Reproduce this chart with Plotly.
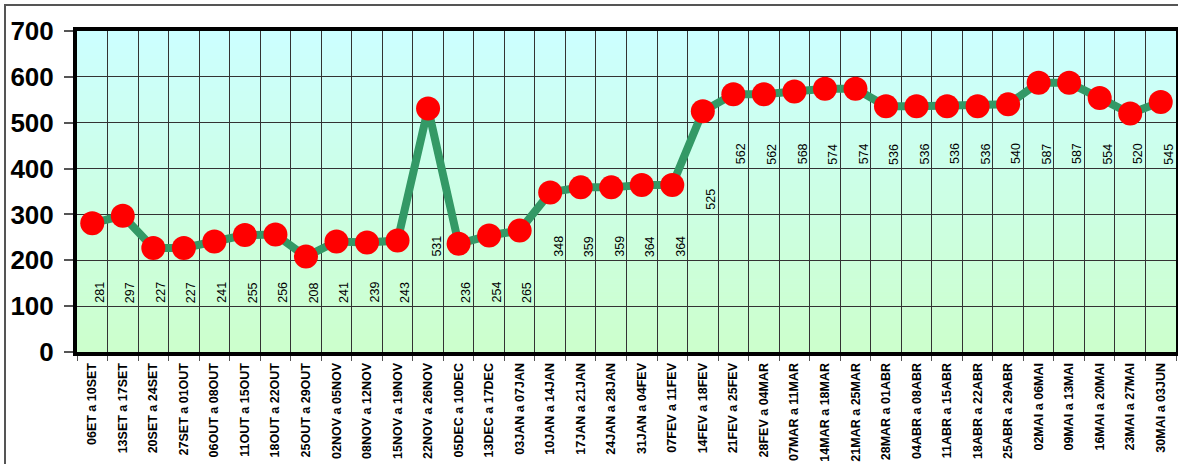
import plotly.graph_objects as go

categories = [
    "06ET a 10SET", "13SET a 17SET", "20SET a 24SET", "27SET a 01OUT",
    "06OUT a 08OUT", "11OUT a 15OUT", "18OUT a 22OUT", "25OUT a 29OUT",
    "02NOV a 05NOV", "08NOV a 12NOV", "15NOV a 19NOV", "22NOV a 26NOV",
    "05DEC a 10DEC", "13DEC a 17DEC", "03JAN a 07JAN", "10JAN a 14JAN",
    "17JAN a 21JAN", "24JAN a 28JAN", "31JAN a 04FEV", "07FEV a 11FEV",
    "14FEV a 18FEV", "21FEV a 25FEV", "28FEV a 04MAR", "07MAR a 11MAR",
    "14MAR a 18MAR", "21MAR a 25MAR", "28MAR a 01ABR", "04ABR a 08ABR",
    "11ABR a 15ABR", "18ABR a 22ABR", "25ABR a 29ABR", "02MAI a 06MAI",
    "09MAI a 13MAI", "16MAI a 20MAI", "23MAI a 27MAI", "30MAI a 03JUN",
]
values = [
    281, 297, 227, 227, 241, 255, 256, 208, 241, 239, 243, 531,
    236, 254, 265, 348, 359, 359, 364, 364, 525, 562, 562, 568,
    574, 574, 536, 536, 536, 536, 540, 587, 587, 554, 520, 545,
]
y_ticks = [0, 100, 200, 300, 400, 500, 600, 700]

# data-label placement tiers (as in the original chart)
label_tier = [130 if v < 300 else 230 if v < 400 else 432 for v in values]
label_tier[11] = 230
label_tier[20] = 334

FONT = "Arial, Liberation Sans, sans-serif"

fig = go.Figure()
fig.add_trace(go.Scatter(
    x=categories, y=values, mode="lines+markers",
    line=dict(color="#339966", width=8),
    marker=dict(color="#FF0000", size=24, line=dict(width=0)),
    hoverinfo="x+y", showlegend=False,
))

for c, v, ly in zip(categories, values, label_tier):
    fig.add_annotation(
        x=c, y=ly, text=str(v), showarrow=False, textangle=-90,
        xshift=8, font=dict(family=FONT, size=12.5, color="#000000"),
    )

# background gradient (cyan top -> light green bottom)
n = 80
for i in range(n):
    t = i / (n - 1)
    b = round(204 + (255 - 204) * t)
    fig.add_shape(type="rect", xref="paper", yref="paper",
                  x0=0, x1=1, y0=i / n, y1=(i + 1) / n + 0.002,
                  fillcolor=f"rgb(204,255,{b})", line=dict(width=0),
                  layer="below")

# outer frame
fig.add_shape(type="rect", xref="paper", yref="paper",
              x0=(5 - 77) / 1099, x1=1.2, y0=-0.6, y1=(352 - 5) / 321,
              line=dict(color="#555555", width=2), fillcolor="rgba(0,0,0,0)",
              layer="above")

fig.update_layout(
    width=1178, height=464,
    margin=dict(l=77, r=2, t=31, b=112, autoexpand=False),
    paper_bgcolor="white", plot_bgcolor="#CCFFEE",
    font=dict(family=FONT),
)
fig.update_xaxes(
    type="category", range=[-0.5, len(categories) - 0.5],
    tickson="boundaries", tickangle=-90, automargin=False,
    ticks="outside", ticklen=5, tickcolor="#555555", tickwidth=1,
    showgrid=True, gridcolor="#333333", gridwidth=1,
    showline=True, linecolor="#000000", linewidth=4, mirror=True,
    tickfont=dict(family=FONT, size=12.5, color="#000000", weight="bold"),
    ticklabelstandoff=2,
)
fig.update_yaxes(
    range=[0, 700], tickvals=y_ticks, ticktext=[str(t) for t in y_ticks],
    automargin=False,
    ticks="outside", ticklen=9, tickcolor="#555555", tickwidth=2,
    showgrid=True, gridcolor="#333333", gridwidth=1, zeroline=False,
    showline=True, linecolor="#000000", linewidth=4, mirror=True,
    tickfont=dict(family=FONT, size=26, color="#000000", weight="bold"),
    ticklabelstandoff=5,
)

fig.write_html(
    "out.html",
    config={"displayModeBar": False},
    post_script="document.body.style.margin='0';document.body.style.padding='0';",
)
